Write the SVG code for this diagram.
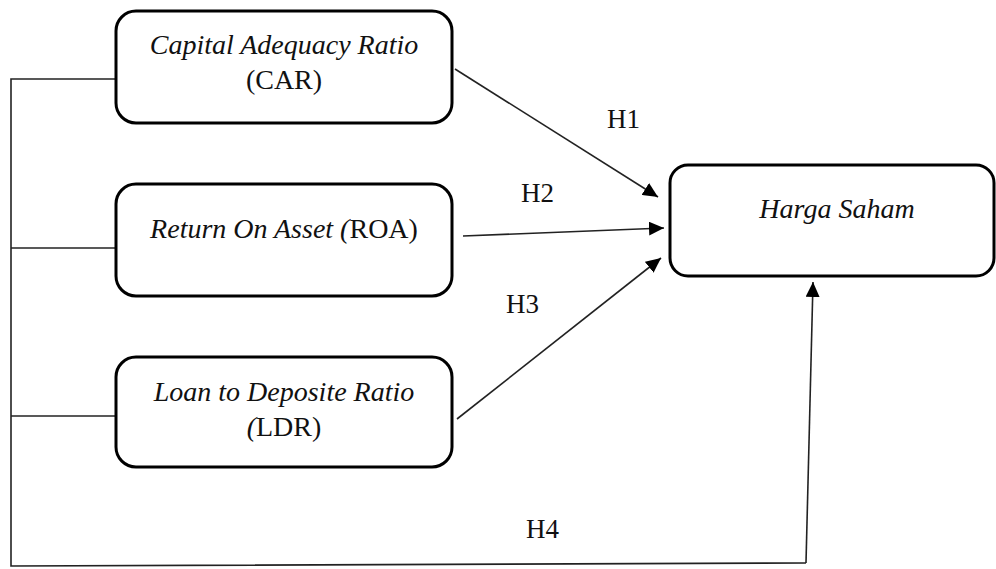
<svg xmlns="http://www.w3.org/2000/svg" width="996" height="569" viewBox="0 0 996 569">
<style>
.box{fill:#fff;stroke:#000;stroke-width:3}
.t{font-family:"Liberation Serif","Times New Roman",serif;font-size:28px;fill:#111;text-anchor:middle}
.i{font-style:italic}
.c{fill:none;stroke:#222;stroke-width:1.6}
.h{font-family:"Liberation Serif","Times New Roman",serif;font-size:27px;fill:#111}
</style>
<defs>
<marker id="ah" markerUnits="userSpaceOnUse" markerWidth="16" markerHeight="14" refX="15" refY="7" orient="auto">
<path d="M0,0 L15,7 L0,14 z" fill="#000"/>
</marker>
</defs>
<rect width="996" height="569" fill="#fff"/>
<g id="connectors">
<polyline class="c" points="115,79 11,79 11,566 806,563"/>
<line class="c" x1="11" y1="248" x2="115" y2="248"/>
<line class="c" x1="11" y1="416" x2="115" y2="416"/>
<line class="c" x1="455" y1="69" x2="658" y2="197" marker-end="url(#ah)"/>
<line class="c" x1="463" y1="236" x2="664" y2="228" marker-end="url(#ah)"/>
<line class="c" x1="457" y1="419" x2="661" y2="258" marker-end="url(#ah)"/>
<line class="c" x1="806" y1="563" x2="813" y2="282" marker-end="url(#ah)"/>
<text class="h" x="607" y="128">H1</text>
<text class="h" x="521" y="202">H2</text>
<text class="h" x="506" y="313">H3</text>
<text class="h" x="526" y="538">H4</text>
</g>
<g id="car">
<rect class="box" x="116" y="11" width="336" height="112" rx="20"/>
<text class="t i" x="284" y="54">Capital Adequacy Ratio</text>
<text class="t" x="284" y="89">(CAR)</text>
</g>
<g id="roa">
<rect class="box" x="116" y="184" width="336" height="112" rx="20"/>
<text class="t" x="284" y="238"><tspan class="i">Return On Asset (</tspan>ROA)</text>
</g>
<g id="ldr">
<rect class="box" x="116" y="357" width="336" height="110" rx="20"/>
<text class="t i" x="284" y="401">Loan to Deposite Ratio</text>
<text class="t" x="284" y="436"><tspan class="i">(</tspan>LDR)</text>
</g>
<g id="harga">
<rect class="box" x="670" y="165" width="324" height="111" rx="18"/>
<text class="t i" x="837" y="218">Harga Saham</text>
</g>
</svg>
